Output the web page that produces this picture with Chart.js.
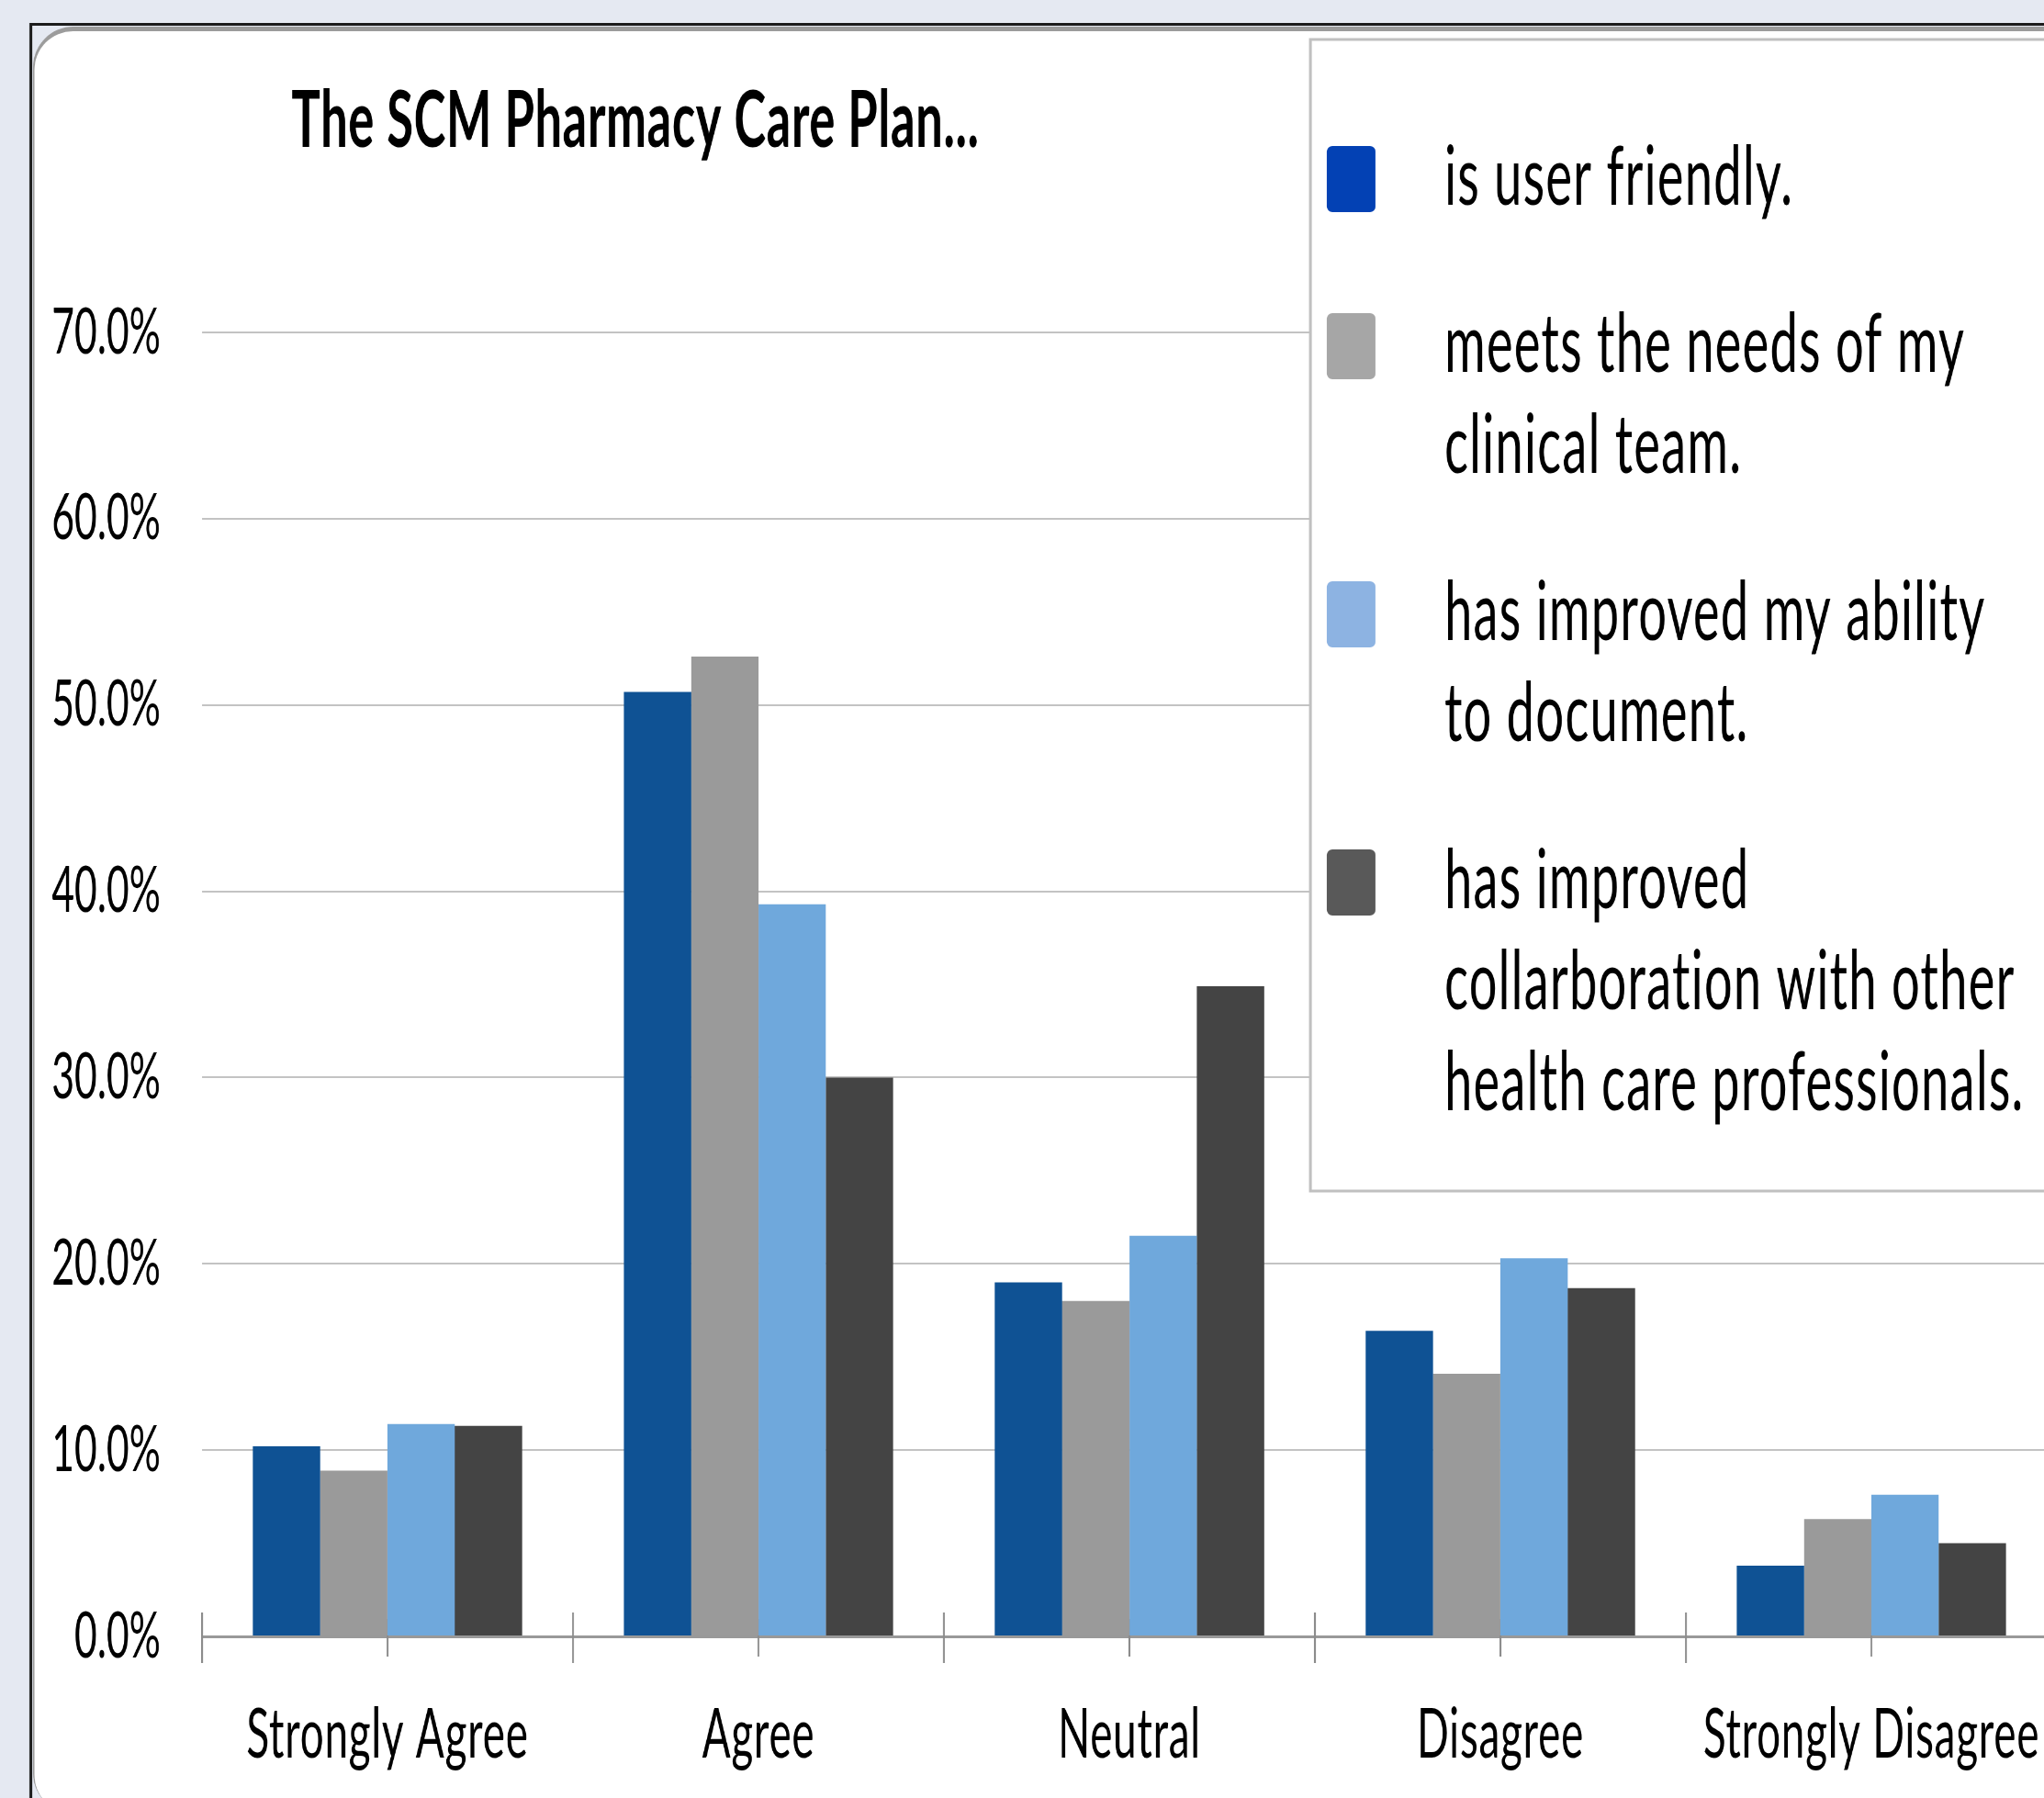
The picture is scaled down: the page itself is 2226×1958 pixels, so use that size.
<!DOCTYPE html>
<html>
<head>
<meta charset="utf-8">
<script src="https://cdn.jsdelivr.net/npm/chart.js@4.4.1/dist/chart.umd.min.js"></script>
<style>
  html, body { margin: 0; padding: 0; background: #e5e9f2; overflow: hidden; }
  #wrap { width: 2226px; height: 1958px; overflow: hidden; position: relative; }
  #chart { position: absolute; left: 0; top: 0; transform-origin: 0 0; }
</style>
</head>
<body>
<div id="wrap"><canvas id="chart"></canvas></div>
<script>
// data
const categories = ["Strongly Agree", "Agree", "Neutral", "Disagree", "Strongly Disagree"];
const seriesNames = [
  ["is user friendly."],
  ["meets the needs of my", "clinical team."],
  ["has improved my ability", "to document."],
  ["has improved", "collarboration with other", "health care professionals."]
];
const userFriendly = [10.2, 50.7, 19.0, 16.4, 3.8];
const meetsNeeds = [8.9, 52.6, 18.0, 14.1, 6.3];
const abilityToDocument = [11.4, 39.3, 21.5, 20.3, 7.6];
const collaboration = [11.3, 30.0, 34.9, 18.7, 5.0];
const yTicks = [0, 10, 20, 30, 40, 50, 60, 70];
const chartTitle = "The SCM Pharmacy Care Plan...";

const barColors = ["#0f5294", "#9a9a9a", "#6fa8dc", "#444444"];
const legendColors = ["#0341b4", "#a6a6a6", "#8db3e2", "#595959"];

// the original slide is squeezed sideways, so draw wide and squash with css
const K = 0.61;
const X = f => f / K;
const FONT = "Lato";

const canvas = document.getElementById("chart");
const W = Math.round(X(2270));
const H = 1958;
canvas.width = W;
canvas.height = H;
canvas.style.width = W + "px";
canvas.style.height = H + "px";
canvas.style.transform = "scaleX(" + K + ")";

const framePlugin = {
  id: "frame",
  beforeDraw(chart) {
    const ctx = chart.ctx;
    ctx.letterSpacing = "0px";
    ctx.save();
    ctx.scale(1 / K, 1);
    ctx.fillStyle = "#e5e9f2";
    ctx.fillRect(0, 0, 2300, H);
    ctx.strokeStyle = "#1c1c1c";
    ctx.lineWidth = 3;
    ctx.strokeRect(33.5, 26.5, 3000, 3000);
    ctx.fillStyle = "#9c9c9c";
    ctx.beginPath();
    ctx.roundRect(36, 29, 3000, 1946, 44);
    ctx.fill();
    ctx.fillStyle = "#ffffff";
    ctx.beginPath();
    ctx.roundRect(37.5, 34, 3000, 1941, 42);
    ctx.fill();
    ctx.restore();
  }
};

const tickPlugin = {
  id: "catTicks",
  beforeDatasetsDraw(chart) {
    const ctx = chart.ctx;
    const xs = chart.scales.x;
    const y0 = chart.scales.y.getPixelForValue(0);
    const half = (xs.getPixelForValue(1) - xs.getPixelForValue(0)) / 2;
    ctx.save();
    ctx.strokeStyle = "#8c8c8c";
    ctx.lineWidth = 2 / K;
    ctx.beginPath();
    categories.forEach((c, i) => {
      const cx = xs.getPixelForValue(i);
      ctx.moveTo(cx - half, y0 - 26);
      ctx.lineTo(cx - half, y0 + 29);
      ctx.moveTo(cx, y0 - 19);
      ctx.lineTo(cx, y0 + 22);
    });
    ctx.stroke();
    ctx.restore();
  },
  afterDatasetsDraw(chart) {
    // x labels are drawn after this (ticks.z = 1), a little looser
    chart.ctx.letterSpacing = "1.3px";
  }
};

const overlayPlugin = {
  id: "overlay",
  afterDraw(chart) {
    const ctx = chart.ctx;
    const lineH = 110;
    const gap = 72;

    // legend box and swatches
    ctx.save();
    ctx.scale(1 / K, 1);
    ctx.fillStyle = "#ffffff";
    ctx.fillRect(1427, 43, 900, 1254);
    ctx.strokeStyle = "#c0c0c0";
    ctx.lineWidth = 3;
    ctx.strokeRect(1427, 43, 900, 1254);
    let top = 159;
    seriesNames.forEach((lines, i) => {
      ctx.fillStyle = legendColors[i];
      ctx.beginPath();
      ctx.roundRect(1445, top, 53, 72, 6);
      ctx.fill();
      top += lines.length * lineH + gap;
    });
    ctx.restore();

    // legend text and title
    ctx.save();
    ctx.fillStyle = "#000000";
    ctx.textBaseline = "alphabetic";
    ctx.textAlign = "left";
    ctx.font = "89px " + FONT;
    ctx.letterSpacing = "2px";
    top = 159;
    seriesNames.forEach(lines => {
      lines.forEach((t, j) => ctx.fillText(t, X(1573), top + 64 + j * lineH));
      top += lines.length * lineH + gap;
    });
    ctx.font = "bold 86px " + FONT;
    ctx.letterSpacing = "1px";
    ctx.textAlign = "center";
    ctx.fillText(chartTitle, X(692), 160);
    ctx.restore();
    ctx.letterSpacing = "0px";
  }
};

const seriesValues = [userFriendly, meetsNeeds, abilityToDocument, collaboration];

new Chart(canvas, {
  type: "bar",
  data: {
    labels: categories,
    datasets: seriesValues.map((d, i) => ({
      label: seriesNames[i].join(" "),
      data: d,
      backgroundColor: barColors[i],
      borderWidth: 0,
      categoryPercentage: 0.726,
      barPercentage: 1
    }))
  },
  options: {
    responsive: false,
    animation: false,
    devicePixelRatio: 1,
    layout: { padding: { left: 0, top: 362, right: W - X(2240), bottom: 0 } },
    plugins: {
      legend: { display: false },
      title: { display: false },
      tooltip: { enabled: false }
    },
    scales: {
      x: {
        offset: true,
        grid: { display: false, drawTicks: false },
        border: { display: true, color: "#999999", width: 3 },
        ticks: {
          z: 1,
          color: "#000000",
          font: { family: FONT, size: 75 },
          padding: 63,
          maxRotation: 0,
          autoSkip: false
        },
        afterFit: s => { s.height = H - 1782; }
      },
      y: {
        min: 0,
        max: 70,
        afterBuildTicks: s => { s.ticks = yTicks.map(v => ({ value: v })); },
        grid: { color: "#c3c3c3", lineWidth: 2, drawTicks: false },
        border: { display: false },
        ticks: {
          color: "#000000",
          font: { family: FONT, size: 70 },
          padding: 74,
          callback: v => v.toFixed(1) + "%"
        },
        afterFit: s => { s.width = X(220); }
      }
    }
  },
  plugins: [framePlugin, tickPlugin, overlayPlugin]
});
</script>
</body>
</html>
